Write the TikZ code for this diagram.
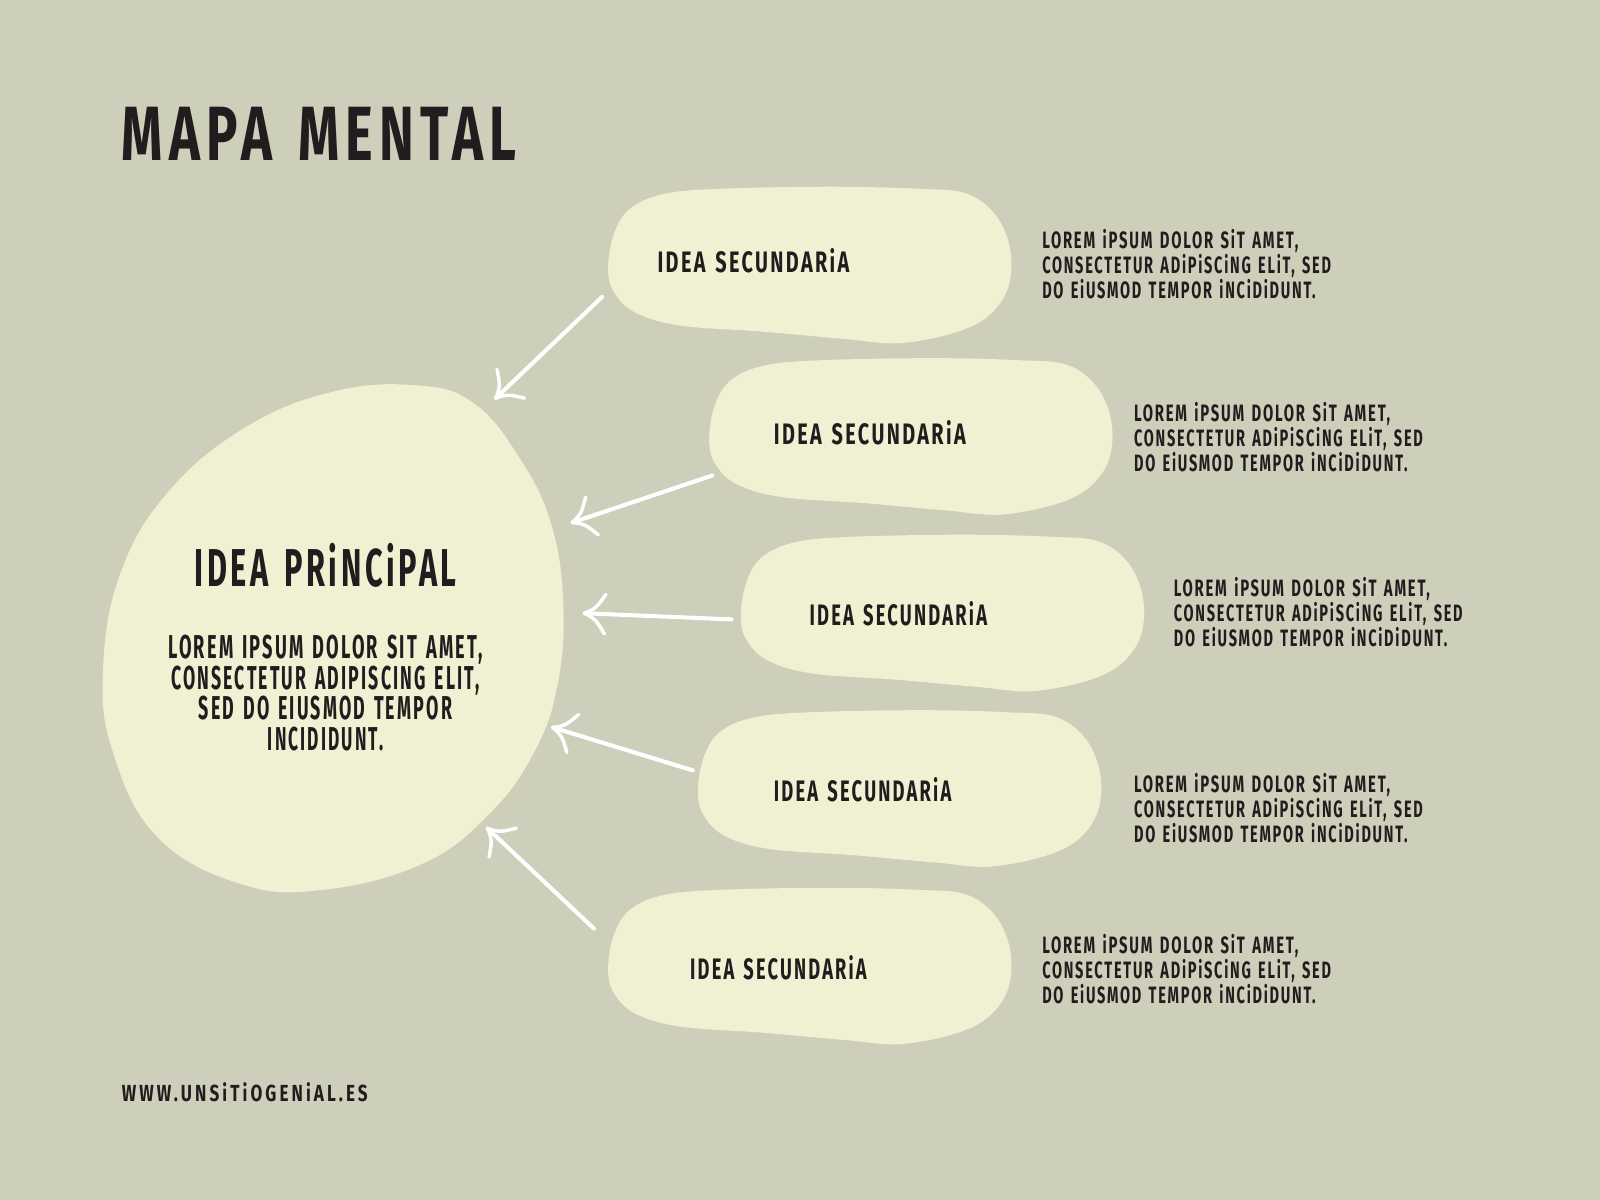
\documentclass[tikz,border=0pt]{standalone}
\usepackage{graphicx}
\usepackage{fontspec}
\usetikzlibrary{calc}
\newfontfamily\handfont{Fira Sans}[LetterSpace=12, WordSpace=1.4]
\newfontfamily\handurl{Fira Sans}[LetterSpace=18]
\definecolor{bgcol}{HTML}{CDCFBA}
\definecolor{blobcol}{HTML}{F2F0D3}
\definecolor{inkcol}{HTML}{211D1E}
\newcommand\fitw[2]{\resizebox{#1}{\height}{#2}}
\newcommand\titlef{\handfont\bfseries\fontsize{37.7}{40}\selectfont}
\newcommand\maintf{\handfont\bfseries\fontsize{26.1}{28}\selectfont}
\newcommand\mainbf{\handfont\bfseries\fontsize{16.2}{15}\selectfont}
\newcommand\secf{\handfont\bfseries\fontsize{14.5}{15}\selectfont}
\newcommand\descf{\handfont\bfseries\fontsize{11.6}{12.25}\selectfont}
\newcommand\urlf{\handurl\bfseries\fontsize{11.4}{12}\selectfont}
\newcommand\desctext{\fitw{125.5pt}{LOREM iPSUM DOLOR SiT AMET,}\\
  \fitw{141.5pt}{CONSECTETUR ADiPiSCiNG ELiT, SED}\\
  \fitw{134pt}{DO EiUSMOD TEMPOR iNCiDiDUNT.}}
\newcommand\handarrow[2]{%
  \draw[arrowline] (#1) -- (#2);
  \draw[barbline] ($(#2)!14pt!44:(#1)$) .. controls ($(#2)!6pt!26:(#1)$) .. (#2)
    .. controls ($(#2)!6pt!-26:(#1)$) .. ($(#2)!14pt!-44:(#1)$);}
\tikzset{
  blobfill/.style={fill=blobcol},
  txt/.style={inner sep=0pt, text=inkcol},
  arrowline/.style={draw=white, line width=2pt, line cap=round},
  barbline/.style={draw=white, line width=1.7pt, line cap=round, line join=round},
  secblob/.pic={\fill[blobfill] plot[smooth cycle, tension=0.6] coordinates {
    (0,77) (6,44) (22,20) (55,6) (110,1) (218,-1) (303,1) (352,6) (382,30)
    (395,68) (388,107) (356,136) (290,152) (230,148) (151,141) (70,135) (26,122) (5,101)};}
}
\begin{document}
\begin{tikzpicture}[x=0.5pt, y=-0.5pt]
\fill[bgcol] (0,0) rectangle (1568,1176);
\useasboundingbox (0,0) rectangle (1568,1176);

% main blob
\fill[blobfill] plot[smooth cycle, tension=0.7] coordinates {
  (412,378) (464,395) (506,444) (539,510) (552,591) (546,673) (523,738)
  (480,797) (415,846) (317,872) (235,866) (154,820) (111,738) (101,657)
  (118,562) (165,482) (242,418) (330,383)};

% secondary blobs
\pic at (596,184) {secblob};
\pic at (695,352) {secblob};
\pic at (726,525) {secblob};
\pic at (684,697) {secblob};
\pic at (596,871) {secblob};

% arrow end points
\coordinate (s1) at (590,291); \coordinate (t1) at (486,390);
\coordinate (s2) at (698,466); \coordinate (t2) at (561,512);
\coordinate (s3) at (717,607); \coordinate (t3) at (573,601);
\coordinate (s4) at (679,755); \coordinate (t4) at (542,713);
\coordinate (s5) at (582,910); \coordinate (t5) at (478,812);
\handarrow{s1}{t1}
\handarrow{s2}{t2}
\handarrow{s3}{t3}
\handarrow{s4}{t4}
\handarrow{s5}{t5}

% texts
\node[txt, anchor=west, font=\titlef] (title) at (119,131.5) {\fitw{193.5pt}{MAPA MENTAL}};
\node[txt, anchor=center, font=\maintf] (main) at (319,554) {\fitw{128.5pt}{IDEA PRiNCiPAL}};
\node[txt, anchor=center, align=center, font=\mainbf] (mainbody) at (319,679)
  {\fitw{154pt}{LOREM IPSUM DOLOR SIT AMET,}\\ \fitw{151pt}{CONSECTETUR ADIPISCING ELIT,}\\
   \fitw{124pt}{SED DO EIUSMOD TEMPOR}\\ \fitw{56.5pt}{INCIDIDUNT.}};

\node[txt, anchor=west, font=\secf] (sec1) at (644,256) {\fitw{94pt}{IDEA SECUNDARiA}};
\node[txt, anchor=west, font=\secf] (sec2) at (758,424) {\fitw{94pt}{IDEA SECUNDARiA}};
\node[txt, anchor=west, font=\secf] (sec3) at (793,601) {\fitw{87pt}{IDEA SECUNDARiA}};
\node[txt, anchor=west, font=\secf] (sec4) at (758,774) {\fitw{87pt}{IDEA SECUNDARiA}};
\node[txt, anchor=west, font=\secf] (sec5) at (676,948) {\fitw{86.5pt}{IDEA SECUNDARiA}};

\node[txt, anchor=west, align=left, font=\descf] (desc1) at (1021,259) {\desctext};
\node[txt, anchor=west, align=left, font=\descf] (desc2) at (1111,428) {\desctext};
\node[txt, anchor=west, align=left, font=\descf] (desc3) at (1150,600) {\desctext};
\node[txt, anchor=west, align=left, font=\descf] (desc4) at (1111,792) {\desctext};
\node[txt, anchor=west, align=left, font=\descf] (desc5) at (1021,950) {\desctext};

\node[txt, anchor=west, font=\urlf] (url) at (119,1070) {\fitw{120.5pt}{WWW.UNSiTiOGENiAL.ES}};
\end{tikzpicture}
\end{document}
